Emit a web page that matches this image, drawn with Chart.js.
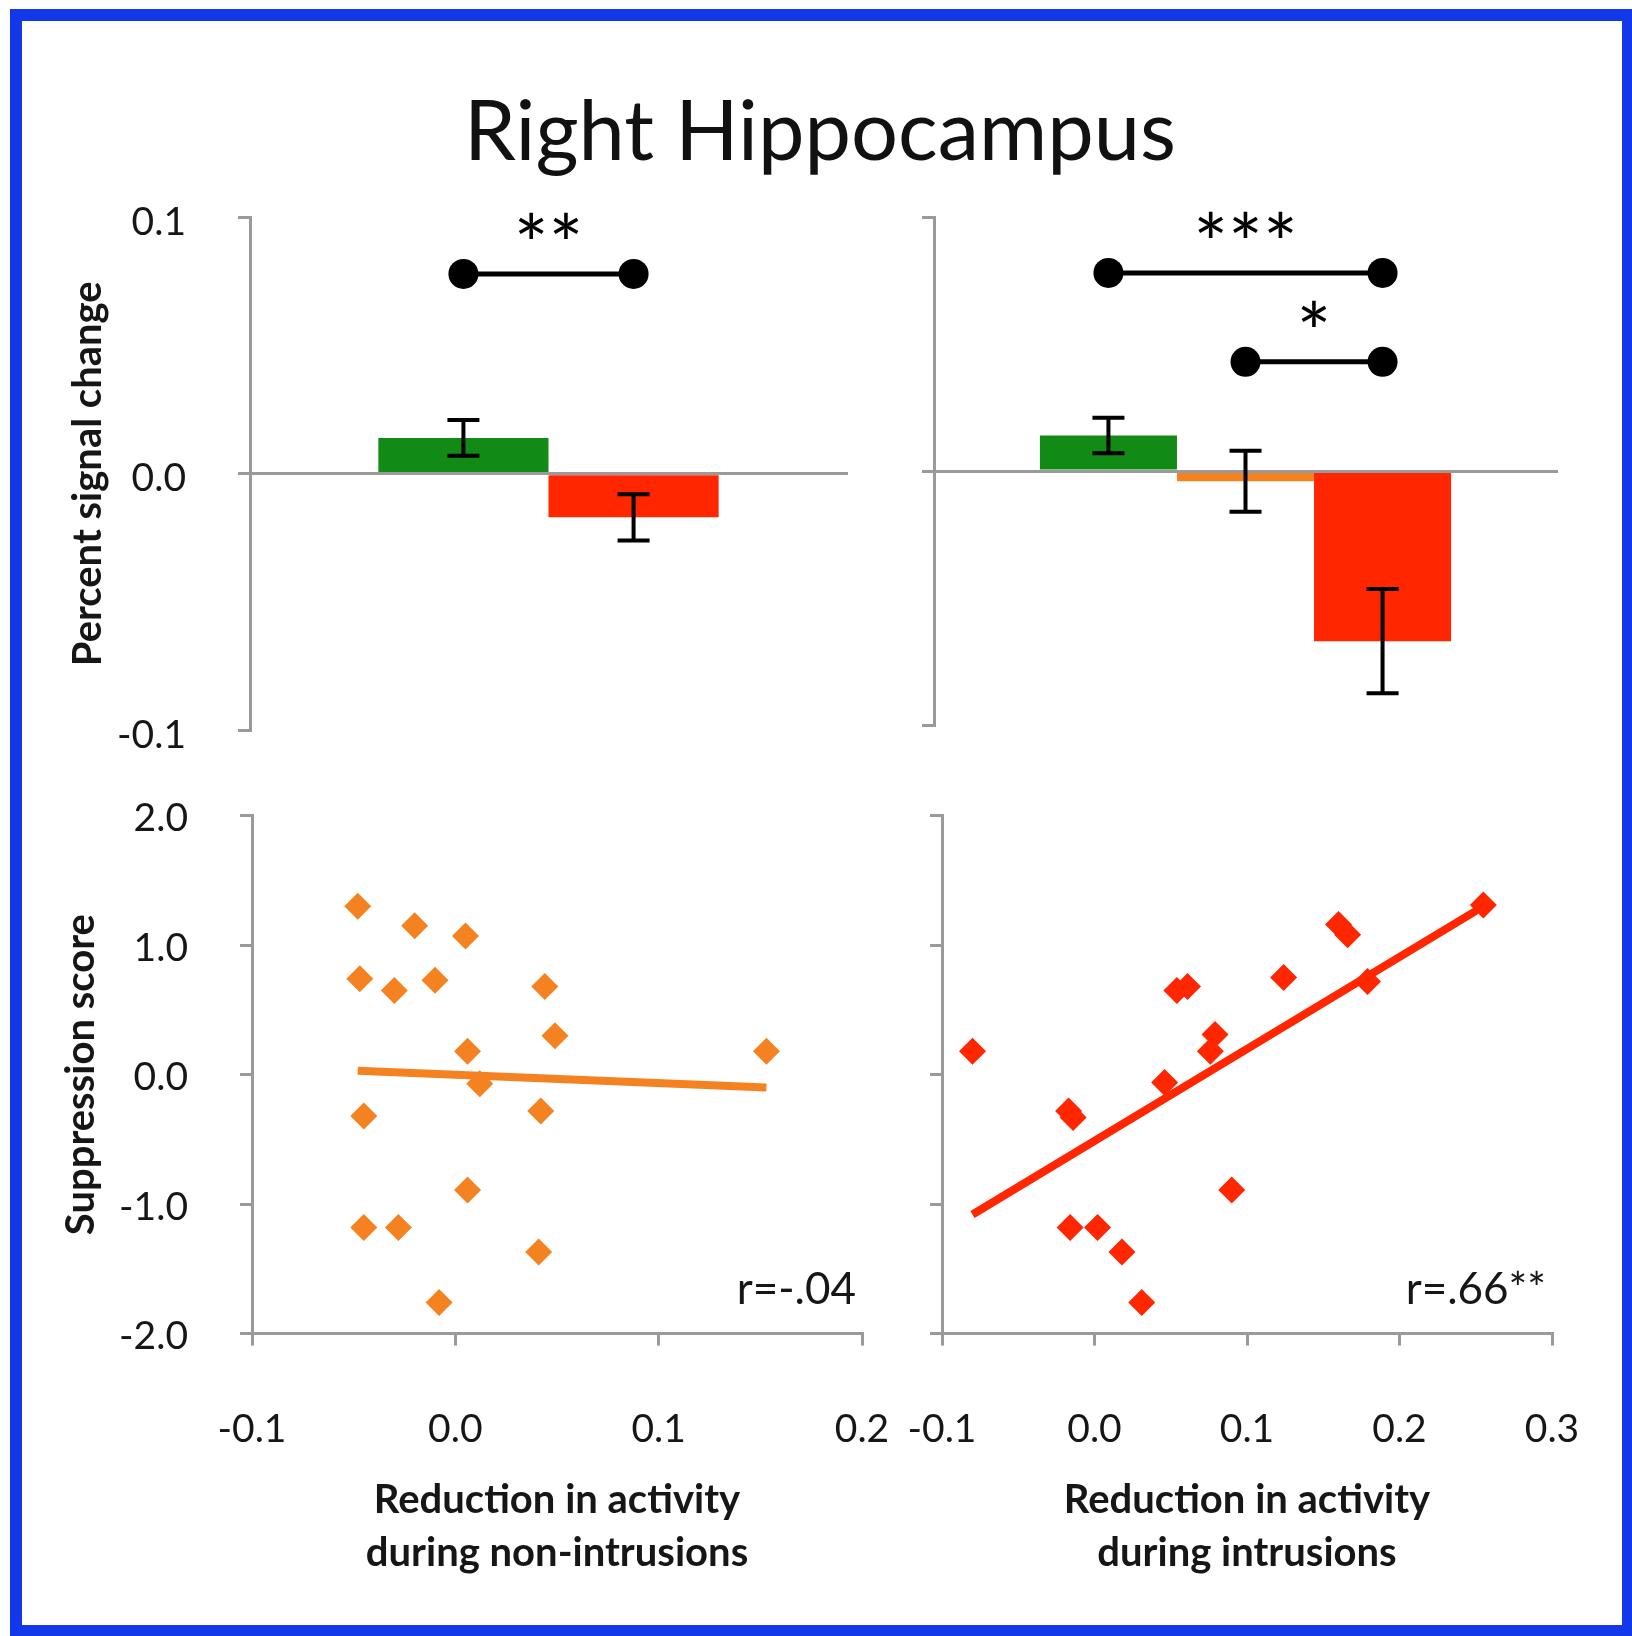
<!DOCTYPE html>
<html>
<head>
<meta charset="utf-8">
<title>Right Hippocampus</title>
<script src="https://cdn.jsdelivr.net/npm/chart.js@4.4.1/dist/chart.umd.min.js"></script>
<style>
  html, body { margin: 0; padding: 0; background: #fff; width: 1632px; height: 1636px; overflow: hidden; }
  #frame { position: absolute; left: 10px; top: 9px; width: 1624px; height: 1628px; box-sizing: border-box; border: 12px solid #1238ea; }
  #title { position: absolute; left: 0; top: 88px; width: 1640px; text-align: center; font: 83px Lato, sans-serif; line-height: 80px; color: #111; }
  canvas { position: absolute; }
</style>
</head>
<body>
<div id="frame"></div>
<div id="title">Right Hippocampus</div>
<canvas id="barsNon" width="860" height="680" style="left:20px;top:130px"></canvas>
<canvas id="barsIntr" width="740" height="620" style="left:880px;top:150px"></canvas>
<canvas id="scatterNon" width="942" height="900" style="left:20px;top:730px"></canvas>
<canvas id="scatterIntr" width="810" height="900" style="left:842px;top:730px"></canvas>
<script>
// ---- data ----
const barCategory = [''];

// top left: percent signal change
const leftConds = ['Think', 'No-Think'];
const leftMeans = [0.014, -0.017];
const leftErrors = [0.007, 0.009];
const leftBrackets = [{ from: 0, to: 1, level: 0.078, stars: '**' }];

// top right: percent signal change
const rightConds = ['Think', 'No-Think non-intrusion', 'No-Think intrusion'];
const rightMeans = [0.014, -0.004, -0.067];
const rightErrors = [0.007, 0.012, 0.0205];
const rightBrackets = [
    { from: 0, to: 2, level: 0.078, stars: '***' },
    { from: 1, to: 2, level: 0.043, stars: '*' }
];

const pscTicks = [-0.1, 0.0, 0.1];
const pscTickLabels = ['-0.1', '0.0', '0.1'];

// bottom left: reduction during non-intrusions vs suppression score
const nonIntrX = [-0.048, -0.020, 0.005, -0.047, -0.030, -0.010, 0.044, 0.049, 0.006, 0.153, 0.012, -0.045, 0.042, 0.006, -0.045, -0.028, 0.041, -0.008];
const nonIntrY = [1.30, 1.15, 1.07, 0.74, 0.65, 0.73, 0.68, 0.30, 0.18, 0.18, -0.07, -0.32, -0.28, -0.89, -1.18, -1.18, -1.37, -1.76];
const nonIntrTrendX = [-0.048, 0.153];
const nonIntrTrendY = [0.03, -0.10];
const nonIntrR = 'r=-.04';

// bottom right: reduction during intrusions vs suppression score
const intrX = [-0.080, 0.255, 0.160, 0.166, 0.124, 0.179, 0.054, 0.061, 0.079, 0.076, 0.046, -0.017, -0.014, 0.090, -0.016, 0.002, 0.018, 0.031];
const intrY = [0.18, 1.31, 1.16, 1.08, 0.75, 0.72, 0.65, 0.68, 0.31, 0.18, -0.06, -0.28, -0.33, -0.89, -1.18, -1.18, -1.37, -1.76];
const intrTrendX = [-0.080, 0.255];
const intrTrendY = [-1.08, 1.30];
const intrR = 'r=.66**';

const scoreTicks = [-2, -1, 0, 1, 2];
const scoreTickLabels = ['-2.0', '-1.0', '0.0', '1.0', '2.0'];
const xTicksNon = [-0.1, 0.0, 0.1, 0.2];
const xTickLabelsNon = ['-0.1', '0.0', '0.1', '0.2'];
const xTicksIntr = [-0.1, 0.0, 0.1, 0.2, 0.3];
const xTickLabelsIntr = ['-0.1', '0.0', '0.1', '0.2', '0.3'];

// ---- styles ----
const GREEN = 'rgb(18,138,22)';
const ORANGE = 'rgb(245,130,32)';
const RED = 'rgb(255,38,0)';
const AXIS = '#9a9a9a';
const TEXT = '#161616';
const leftColors = [GREEN, RED];
const rightColors = [GREEN, ORANGE, RED];

function zip(xs, ys) {
    return xs.map((x, i) => ({ x: x, y: ys[i] }));
}

function fixedTicks(values) {
    return function (scale) { scale.ticks = values.map(v => ({ value: v })); };
}

function errorBarsPlugin(errors) {
    return {
        id: 'errorBars',
        afterDraw(chart) {
            const ctx = chart.ctx;
            const y = chart.scales.y;
            ctx.save();
            ctx.strokeStyle = '#000';
            ctx.lineWidth = 4;
            chart.data.datasets.forEach((ds, i) => {
                const bar = chart.getDatasetMeta(i).data[0];
                const v = ds.data[0];
                const top = y.getPixelForValue(v + errors[i]);
                const bot = y.getPixelForValue(v - errors[i]);
                ctx.beginPath();
                ctx.moveTo(bar.x, top); ctx.lineTo(bar.x, bot);
                ctx.moveTo(bar.x - 16, top); ctx.lineTo(bar.x + 16, top);
                ctx.moveTo(bar.x - 16, bot); ctx.lineTo(bar.x + 16, bot);
                ctx.stroke();
            });
            ctx.restore();
        }
    };
}

function bracketPlugin(brackets) {
    return {
        id: 'brackets',
        afterDraw(chart) {
            const ctx = chart.ctx;
            const y = chart.scales.y;
            ctx.save();
            ctx.strokeStyle = '#000';
            ctx.fillStyle = '#000';
            ctx.lineWidth = 5;
            brackets.forEach(b => {
                const x1 = chart.getDatasetMeta(b.from).data[0].x;
                const x2 = chart.getDatasetMeta(b.to).data[0].x;
                const py = y.getPixelForValue(b.level);
                ctx.beginPath();
                ctx.moveTo(x1, py); ctx.lineTo(x2, py);
                ctx.stroke();
                [x1, x2].forEach(px => {
                    ctx.beginPath();
                    ctx.arc(px, py, 15, 0, Math.PI * 2);
                    ctx.fill();
                });
                ctx.font = '82px Lato, sans-serif';
                ctx.textAlign = 'center';
                ctx.textBaseline = 'alphabetic';
                ctx.fillText(b.stars, (x1 + x2) / 2, py);
            });
            ctx.restore();
        }
    };
}

function corrLabelPlugin(text) {
    return {
        id: 'corrLabel',
        afterDraw(chart) {
            const ctx = chart.ctx;
            const a = chart.chartArea;
            ctx.save();
            ctx.font = '44px Lato, sans-serif';
            ctx.fillStyle = TEXT;
            ctx.textAlign = 'right';
            ctx.textBaseline = 'alphabetic';
            ctx.fillText(text, a.right - 6, a.bottom - 30);
            ctx.restore();
        }
    };
}

const common = {
    responsive: false,
    animation: false,
    plugins: { legend: { display: false }, tooltip: { enabled: false } }
};

function categoryAxis() {
    return {
        type: 'category',
        position: { y: 0 },
        grid: { display: false },
        ticks: { display: false },
        border: { color: AXIS, width: 3, z: 1 }
    };
}

function valueAxis(opts) {
    return {
        type: 'linear',
        position: opts.position,
        min: opts.min,
        max: opts.max,
        afterBuildTicks: fixedTicks(opts.ticks),
        afterFit: opts.fit,
        ticks: {
            display: opts.showLabels,
            padding: opts.padding,
            labelOffset: opts.labelOffset || 0,
            color: TEXT,
            font: { size: 39 },
            callback: (v, i) => opts.labels[i]
        },
        grid: { drawOnChartArea: false, color: AXIS, lineWidth: 3, tickLength: 12 },
        border: { color: AXIS, width: 3 },
        title: opts.title || { display: false }
    };
}

function yTitle(text, pad) {
    return {
        display: true,
        text: text,
        color: TEXT,
        font: { size: 40, weight: 'bold', lineHeight: 1.2 },
        padding: { top: pad, bottom: 0 }
    };
}

function xTitle(lines) {
    return {
        display: true,
        text: lines,
        color: TEXT,
        font: { size: 40, weight: 'bold', lineHeight: 1.325 },
        padding: { top: 0, bottom: 14 }
    };
}

function barChart(id, conds, means, errors, colors, brackets, catPct, yAxis, padding) {
    return new Chart(document.getElementById(id), {
        type: 'bar',
        data: {
            labels: barCategory,
            datasets: conds.map((c, i) => ({
                label: c,
                data: [means[i]],
                backgroundColor: colors[i],
                borderWidth: 0,
                categoryPercentage: catPct,
                barPercentage: 1.0
            }))
        },
        options: Object.assign({}, common, {
            layout: { padding: padding },
            scales: { x: categoryAxis(), y: yAxis }
        }),
        plugins: [errorBarsPlugin(errors), bracketPlugin(brackets)]
    });
}

function scatterChart(id, xs, ys, trendX, trendY, color, rText, xAxis, yAxis, padding) {
    return new Chart(document.getElementById(id), {
        type: 'scatter',
        data: {
            datasets: [
                {
                    type: 'line',
                    label: 'fit',
                    data: zip(trendX, trendY),
                    borderColor: color,
                    borderWidth: 8,
                    pointRadius: 0,
                    fill: false
                },
                {
                    label: 'subjects',
                    data: zip(xs, ys),
                    backgroundColor: color,
                    borderWidth: 0,
                    pointStyle: 'rectRot',
                    pointRadius: 13.5
                }
            ]
        },
        options: Object.assign({}, common, {
            layout: { padding: padding },
            scales: { x: xAxis, y: yAxis }
        }),
        plugins: [corrLabelPlugin(rText)]
    });
}

function drawAll() {
    Chart.defaults.font.family = 'Lato, sans-serif';

    barChart('barsNon', leftConds, leftMeans, leftErrors, leftColors, leftBrackets, 0.57,
        valueAxis({
            position: 'left', min: -0.1, max: 0.1, ticks: pscTicks, labels: pscTickLabels,
            showLabels: true, padding: 52, labelOffset: 5, fit: s => { s.width = 230; },
            title: yTitle('Percent signal change', 44)
        }),
        { left: 0, right: 33, top: 87.5, bottom: 80 });

    barChart('barsIntr', rightConds, rightMeans, rightErrors, rightColors, rightBrackets, 0.66,
        valueAxis({
            position: 'left', min: -0.1, max: 0.1, ticks: pscTicks, labels: pscTickLabels,
            showLabels: false, padding: 52, fit: s => { s.width = 54; }
        }),
        { left: 0, right: 63, top: 67, bottom: 45 });

    scatterChart('scatterNon', nonIntrX, nonIntrY, nonIntrTrendX, nonIntrTrendY, ORANGE, nonIntrR,
        valueAxis({
            position: 'bottom', min: -0.1, max: 0.2, ticks: xTicksNon, labels: xTickLabelsNon,
            showLabels: true, padding: 60, fit: s => { s.height = 260; },
            title: xTitle(['Reduction in activity', 'during non-intrusions'])
        }),
        valueAxis({
            position: 'left', min: -2, max: 2, ticks: scoreTicks, labels: scoreTickLabels,
            showLabels: true, padding: 52, labelOffset: 3, fit: s => { s.width = 232; },
            title: yTitle('Suppression score', 37)
        }),
        { left: 0, right: 100, top: 85.7, bottom: 36.4 });

    scatterChart('scatterIntr', intrX, intrY, intrTrendX, intrTrendY, RED, intrR,
        valueAxis({
            position: 'bottom', min: -0.1, max: 0.3, ticks: xTicksIntr, labels: xTickLabelsIntr,
            showLabels: true, padding: 60, fit: s => { s.height = 260; },
            title: xTitle(['Reduction in activity', 'during intrusions'])
        }),
        valueAxis({
            position: 'left', min: -2, max: 2, ticks: scoreTicks, labels: scoreTickLabels,
            showLabels: false, padding: 52, fit: s => { s.width = 100; }
        }),
        { left: 0, right: 100, top: 85.7, bottom: 36.4 });
}

Promise.all([
    document.fonts.load('39px Lato'),
    document.fonts.load('bold 40px Lato')
]).then(drawAll, drawAll);
</script>
</body>
</html>
